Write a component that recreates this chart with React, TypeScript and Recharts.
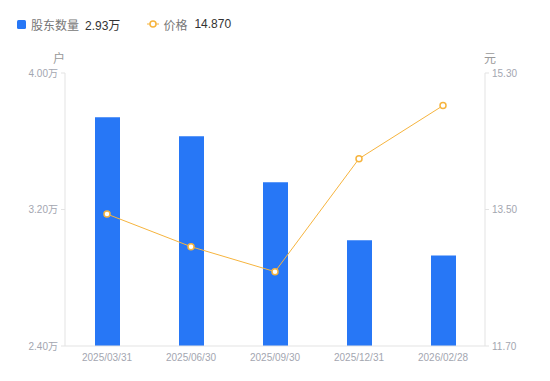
import React from 'react';
import { ComposedChart, Bar, Line, XAxis, YAxis } from 'recharts';

const DATES = ['2025/03/31', '2025/06/30', '2025/09/30', '2025/12/31', '2026/02/28'];
const HOLDERS = [3.74, 3.63, 3.36, 3.02, 2.93]; // 万户
const PRICES = [13.44, 13.01, 12.68, 14.17, 14.87];
const LEFT_TICKS = [2.4, 3.2, 4.0];
const RIGHT_TICKS = [11.7, 13.5, 15.3];

const data = DATES.map((d, i) => ({ date: d, holders: HOLDERS[i], price: PRICES[i] }));

const FONT = '"Liberation Sans", Arial, "Noto Sans CJK SC", sans-serif';
const BLUE = '#2777f6';
const ORANGE = '#f6b43e';
const AXIS = '#e3e3e3';
const TICK = { fill: '#a3a6b0', fontSize: 10, fontFamily: FONT };

export default function App() {
  return (
    <div style={{ position: 'absolute', left: 0, top: 0, width: 550, height: 381, background: '#fff', fontFamily: FONT }}>
      <div style={{ position: 'absolute', left: 17, top: 16, display: 'flex', alignItems: 'center', fontSize: 12, height: 16 }}>
        <span style={{ width: 9, height: 9, background: BLUE, borderRadius: 1.5, display: 'inline-block' }} />
        <span style={{ marginLeft: 5, color: '#777' }}>股东数量</span>
        <span style={{ marginLeft: 6, color: '#333' }}>2.93万</span>
        <svg width={12} height={10} style={{ marginLeft: 27 }}>
          <line x1={0} y1={5} x2={12} y2={5} stroke={ORANGE} strokeWidth={1} />
          <circle cx={6} cy={5} r={3} fill="#fff" stroke={ORANGE} strokeWidth={1.5} />
        </svg>
        <span style={{ marginLeft: 4, color: '#777' }}>价格</span>
        <span style={{ marginLeft: 7, color: '#333' }}>14.870</span>
      </div>
      <div style={{ position: 'absolute', left: 53, top: 49, fontSize: 12, color: '#999' }}>户</div>
      <div style={{ position: 'absolute', left: 484, top: 49, fontSize: 12, color: '#999' }}>元</div>
      <ComposedChart width={550} height={381} data={data} margin={{ top: 73, right: 0, bottom: 5, left: 0 }}>
        <XAxis dataKey="date" tickLine={false} axisLine={{ stroke: AXIS }} tick={TICK} height={30} interval={0} />
        <YAxis
          yAxisId="left"
          width={65}
          domain={[2.4, 4.0]}
          ticks={LEFT_TICKS}
          tickFormatter={(v: number) => `${v.toFixed(2)}万`}
          axisLine={{ stroke: AXIS }}
          tickLine={{ stroke: AXIS }}
          tickSize={4}
          tickMargin={3}
          tick={TICK}
        />
        <YAxis
          yAxisId="right"
          orientation="right"
          width={65}
          domain={[11.7, 15.3]}
          ticks={RIGHT_TICKS}
          tickFormatter={(v: number) => v.toFixed(2)}
          axisLine={{ stroke: AXIS }}
          tickLine={{ stroke: AXIS }}
          tickSize={4}
          tickMargin={3}
          tick={TICK}
        />
        <Bar yAxisId="left" dataKey="holders" fill={BLUE} barSize={25} isAnimationActive={false} />
        <Line
          yAxisId="right"
          dataKey="price"
          type="linear"
          stroke={ORANGE}
          strokeWidth={1}
          dot={{ r: 3, fill: '#fff', stroke: ORANGE, strokeWidth: 1.5 }}
          activeDot={false}
          isAnimationActive={false}
        />
      </ComposedChart>
    </div>
  );
}
